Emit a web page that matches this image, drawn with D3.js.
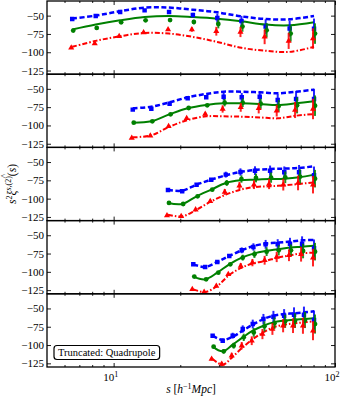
<!DOCTYPE html>
<html>
<head>
<meta charset="utf-8">
<script src="https://cdn.jsdelivr.net/npm/d3@7"></script>
<style>
  body { margin: 0; background: #fff; }
  svg text { font-family: "Liberation Serif", "DejaVu Serif", serif; fill: #000; }
</style>
</head>
<body>
<svg id="chart" width="345" height="398"></svg>
<script>
// separation bins, one list per panel
const sBins = [
    [6.5, 8.3, 10.7, 13.8, 17.8, 22.8, 29.4, 37.8, 48.6, 62.4, 80.4],
    [12.2, 14.8, 17.9, 21.6, 26.2, 31.4, 37.9, 45.7, 55.1, 66.7, 80.4],
    [17.6, 20.4, 23.7, 27.6, 32.1, 37.4, 43.5, 50.9, 59.0, 68.8, 80.4],
    [22.9, 25.9, 29.4, 33.3, 37.9, 42.8, 48.6, 55.1, 62.6, 71.0, 80.4],
    [28.0, 31.1, 34.5, 38.3, 42.5, 47.5, 52.7, 58.9, 65.3, 72.4, 80.4]
]

// measured points (squares / circles / triangles)
const blueData = [
    [-54.6, -50.5, -45.1, -42.8, -45.1, -49.2, -53.3, -57.3, -65, -67.7, -68],
    [-78.4, -77.1, -70.3, -63, -61.6, -60.7, -61.6, -60.7, -65.2, -63.9, -63.9],
    [-88.2, -90, -80.9, -74.1, -67.2, -63.6, -61.8, -61.8, -64, -64, -68.1],
    [-89.7, -93.3, -86.5, -78.3, -70.6, -66, -62.4, -62.4, -61.5, -61.5, -67.8],
    [-87.2, -94, -87.2, -78.1, -71.3, -64.5, -61.3, -59.9, -58.5, -58.5, -65.8]
]
const greenData = [
    [-70.4, -66.8, -59.1, -56.4, -56, -58.7, -61.4, -65, -70, -74.5, -74.5],
    [-96.2, -94.4, -84.8, -76.2, -72.5, -68.9, -68.9, -70.3, -73.4, -72.5, -73],
    [-105.9, -107.3, -96.8, -87.7, -78.6, -73.2, -71.8, -71.3, -70.9, -70, -72.7],
    [-106.5, -110.2, -101.1, -89.7, -80.6, -76, -72.4, -70.6, -70.6, -71.5, -72.4],
    [-102.2, -108.6, -100.9, -89.5, -82.7, -74.5, -70.4, -67.6, -66.7, -65.8, -71.3]
]
const redData = [
    [-94, -88, -78.1, -73.1, -69, -69, -71.3, -72.3, -79, -84.5, -81.3],
    [-117.2, -114, -101.2, -90.3, -84.4, -77.5, -75.3, -76.6, -79.8, -78.9, -77.5],
    [-123, -124.2, -115, -103.7, -90.9, -82.3, -80.9, -80, -80.9, -78.6, -80.9],
    [-123.9, -127.5, -119.3, -103.4, -92, -87.4, -84.2, -79.7, -77.4, -76, -80.6],
    [-119.1, -125.9, -114.5, -100.9, -94.1, -85, -78.1, -73.6, -73.6, -73.6, -80.4]
]
const errBars = [
    [1, 1, 1, 1.5, 2, 3, 6, 7, 10, 11, 14],
    [1, 1, 1, 1.5, 2, 5, 6, 7, 8, 11, 14],
    [1, 1, 1, 2, 4, 5, 6, 7, 8, 10, 12],
    [1, 1, 1.5, 2, 4, 5, 6, 7, 8, 10, 12],
    [2, 3, 4, 5, 6, 7, 8, 9, 10, 11, 13]
]

// model curves
const blueModel = [
    [-54, -50, -44, -39, -39, -42, -45.5, -51, -54.6, -55, -50.5],
    [-76.6, -74.4, -68.4, -61.6, -57, -53.9, -53.9, -54.8, -56.1, -53.9, -51.1],
    [-88.2, -89.1, -80.9, -74.1, -68.1, -63.6, -60.9, -59.5, -59, -58.1, -55.8],
    [-89.7, -93.3, -86.5, -78.3, -70.6, -64.7, -61.5, -60.1, -58.7, -56.9, -56.5],
    [-87.2, -93.1, -88.6, -80.4, -72.2, -64.5, -59.9, -57.6, -56.7, -55.3, -54]
]
const greenModel = [
    [-69, -62.2, -56.4, -51.9, -50.5, -51.9, -54.1, -57.7, -62.2, -63.2, -59.1],
    [-96.2, -94.4, -84.8, -76.6, -72.1, -69.8, -69.8, -70.7, -72.1, -69.8, -67.1],
    [-105.9, -107.3, -96.8, -87.7, -78.6, -75, -74.1, -73.2, -72.7, -70.9, -67.2],
    [-106.5, -110.2, -101.1, -89.7, -80.6, -75.1, -71.5, -69.2, -66.9, -65.6, -64.2],
    [-102.2, -108.6, -99.5, -89.5, -80.4, -73.6, -69, -66.7, -65.4, -64.5, -63.5]
]
const redModel = [
    [-92.6, -84.5, -78.1, -73.6, -74.5, -79, -85.9, -94, -98, -99.5, -92.6],
    [-116.3, -113.5, -101.7, -92.6, -87.6, -87.6, -88, -89, -90.3, -86.7, -84.4],
    [-122, -124.2, -115, -103.7, -94.6, -87.7, -84.1, -83.2, -81.8, -80, -77.7],
    [-123.9, -127.5, -119.3, -104.3, -94.3, -88.3, -85.1, -80.6, -77.4, -74.7, -73.8],
    [-119.1, -126.8, -115.9, -103.2, -91.8, -82.7, -75.8, -72.2, -70.4, -69, -67.6]
]

const yTicks = [-50, -75, -100, -125]
const xMajor = [10, 100]
const xMinor = [6, 7, 8, 9, 20, 30, 40, 50, 60, 70, 80, 90]
const boxLabel = 'Truncated: Quadrupole'

const width = 345
const height = 398
const margin = {left: 47, right: 10, top: 1, bottom: 31}
const nPanels = sBins.length
const panelH = (height - margin.top - margin.bottom) / nPanels
const serif = '"Liberation Serif", "DejaVu Serif", serif'

const svg = d3.select('#chart')
const xScale = d3.scaleLog().domain([5, 100]).range([margin.left, width - margin.right])

const series = [
    {data: blueData, model: blueModel, color: '#0000ff', symbol: d3.symbolSquare, size: 20, dx: 0,
     dash: '5,2.5', lw: 2.5},
    {data: greenData, model: greenModel, color: '#008000', symbol: d3.symbolCircle, size: 18, dx: 1,
     dash: null, lw: 2},
    {data: redData, model: redModel, color: '#ff0000', symbol: d3.symbolTriangle, size: 16, dx: -1,
     dash: '5,2,1.5,2', lw: 2},
]

for (let p = 0; p < nPanels; p++) {
    const top = margin.top + p * panelH
    const bottom = top + panelH
    const yScale = d3.scaleLinear().domain([-130, -30]).range([bottom, top])
    const g = svg.append('g')

    const clipId = 'clip' + p
    svg.append('clipPath').attr('id', clipId)
        .append('rect').attr('x', margin.left).attr('y', top)
        .attr('width', width - margin.left - margin.right).attr('height', panelH)
    const plot = g.append('g').attr('clip-path', `url(#${clipId})`)

    const line = d3.line()
        .x(d => xScale(d[0]))
        .y(d => yScale(d[1]))
        .curve(d3.curveCatmullRom)

    // model lines
    series.forEach(sr => {
        const pts = sBins[p].map((s, i) => [s, sr.model[p][i]])
        plot.append('path')
            .datum(pts)
            .attr('fill', 'none')
            .attr('stroke', sr.color)
            .attr('stroke-width', sr.lw)
            .attr('stroke-dasharray', sr.dash)
            .attr('d', line)
    })

    // points with error bars
    series.forEach(sr => {
        const pts = sBins[p].map((s, i) => ({s: s, v: sr.data[p][i], e: errBars[p][i]}))
        plot.append('g')
            .selectAll('line')
            .data(pts)
            .enter()
            .append('line')
            .attr('x1', d => xScale(d.s) + sr.dx)
            .attr('x2', d => xScale(d.s) + sr.dx)
            .attr('y1', d => yScale(d.v - d.e))
            .attr('y2', d => yScale(d.v + d.e))
            .attr('stroke', sr.color)
            .attr('stroke-width', 2)
            .attr('opacity', 0.85)
        plot.append('g')
            .selectAll('path')
            .data(pts)
            .enter()
            .append('path')
            .attr('transform', d => `translate(${xScale(d.s) + sr.dx},${yScale(d.v)})`)
            .attr('d', d3.symbol().type(sr.symbol).size(sr.size))
            .attr('fill', sr.color)
    })

    // axes, ticks pointing inwards
    const fmt = d => d3.format('d')(d)
    g.append('g')
        .attr('transform', `translate(${margin.left},0)`)
        .call(d3.axisLeft(yScale).tickValues(yTicks).tickSize(-4).tickPadding(3).tickFormat(fmt))
        .attr('font-family', serif)
        .attr('font-size', 11)
        .call(a => a.select('.domain').remove())
    g.append('g')
        .attr('transform', `translate(${width - margin.right},0)`)
        .call(d3.axisRight(yScale).tickValues(yTicks).tickSize(-4).tickFormat(''))
        .call(a => a.select('.domain').remove())

    ;[[xMajor, 4], [xMinor, 2]].forEach(([vals, len]) => {
        g.append('g')
            .attr('transform', `translate(0,${bottom})`)
            .call(d3.axisBottom(xScale).tickValues(vals).tickSize(-len).tickFormat(''))
            .call(a => a.select('.domain').remove())
        g.append('g')
            .attr('transform', `translate(0,${top})`)
            .call(d3.axisTop(xScale).tickValues(vals).tickSize(-len).tickFormat(''))
            .call(a => a.select('.domain').remove())
    })
    g.selectAll('.tick line').attr('stroke', '#000').attr('stroke-width', 0.9)

    g.append('rect')
        .attr('x', margin.left).attr('y', top)
        .attr('width', width - margin.left - margin.right).attr('height', panelH)
        .attr('fill', 'none').attr('stroke', '#000').attr('stroke-width', 1.3)

    if (p === nPanels - 1) {
        // x tick labels 10^1, 10^2
        xMajor.forEach(v => {
            const t = svg.append('text')
                .attr('x', xScale(v) - 3)
                .attr('y', bottom + 14)
                .attr('text-anchor', 'middle')
                .style('font-size', '11px')
            t.append('tspan').text('10')
            t.append('tspan').attr('dy', -4).style('font-size', '8px').text(Math.log10(v))
        })

        // legend box
        const bx = svg.append('g')
        const txt = bx.append('text')
            .attr('x', margin.left + 11)
            .attr('y', bottom - 11)
            .style('font-size', '10.5px')
            .text(boxLabel)
        const bb = txt.node().getBBox()
        bx.insert('rect', 'text')
            .attr('x', bb.x - 4).attr('y', bb.y - 1.5)
            .attr('width', bb.width + 8).attr('height', bb.height + 3)
            .attr('rx', 3)
            .attr('fill', '#fff').attr('stroke', '#000').attr('stroke-width', 1.2)
    }
}

// x label
const xl = svg.append('text')
    .attr('x', (margin.left + width - margin.right) / 2)
    .attr('y', height - 5)
    .attr('text-anchor', 'middle')
    .style('font-size', '11.5px')
xl.append('tspan').style('font-style', 'italic').text('s')
xl.append('tspan').text(' [')
xl.append('tspan').style('font-style', 'italic').text('h')
xl.append('tspan').attr('dy', -4).style('font-size', '8px').text('−1')
xl.append('tspan').attr('dy', 4).style('font-style', 'italic').text('Mpc')
xl.append('tspan').text(']')

// y label: s^2 xi-hat^{s,(2)}(s)
const ylX = 16
const ylY = margin.top + nPanels * panelH / 2
const yl = svg.append('text')
    .attr('transform', `translate(${ylX},${ylY}) rotate(-90)`)
    .attr('text-anchor', 'middle')
    .style('font-size', '11.5px')
yl.append('tspan').style('font-style', 'italic').text('s')
yl.append('tspan').attr('dy', -4).style('font-size', '8px').text('2')
yl.append('tspan').attr('dy', 4).style('font-style', 'italic').text('ξ')
yl.append('tspan').attr('dy', -5).style('font-size', '8px').style('font-style', 'italic').text('s')
yl.append('tspan').style('font-size', '8px').text(',(2)')
yl.append('tspan').attr('dy', 5).text('(')
yl.append('tspan').style('font-style', 'italic').text('s')
yl.append('tspan').text(')')
// hat over the xi
const ylBox = yl.node().getBBox()
svg.append('text')
    .attr('transform', `translate(${ylX - 9},${ylY - ylBox.width / 2 + 12}) rotate(-90)`)
    .attr('text-anchor', 'middle')
    .style('font-size', '9px')
    .text('^')
</script>
</body>
</html>
